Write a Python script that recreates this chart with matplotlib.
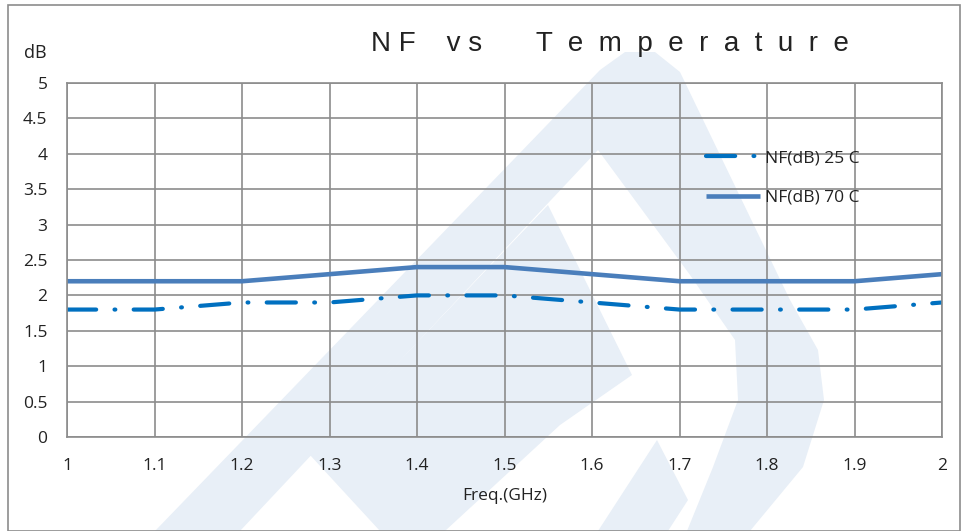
import matplotlib
matplotlib.use("Agg")
import matplotlib.pyplot as plt
from matplotlib.patches import Rectangle, Polygon

plt.rcParams['font.family'] = ['Open Sans', 'DejaVu Sans']

freq = [1.0, 1.1, 1.2, 1.3, 1.4, 1.5, 1.6, 1.7, 1.8, 1.9, 2.0]
nf_25c = [1.8, 1.8, 1.9, 1.9, 2.0, 2.0, 1.9, 1.8, 1.8, 1.8, 1.9]
nf_70c = [2.2, 2.2, 2.2, 2.3, 2.4, 2.4, 2.3, 2.2, 2.2, 2.2, 2.3]
x_ticks = [1, 1.1, 1.2, 1.3, 1.4, 1.5, 1.6, 1.7, 1.8, 1.9, 2]
x_labels = ['1', '1.1', '1.2', '1.3', '1.4', '1.5', '1.6', '1.7', '1.8', '1.9', '2']
y_ticks = [0, 0.5, 1, 1.5, 2, 2.5, 3, 3.5, 4, 4.5, 5]
y_labels = ['0', '0.5', '1', '1.5', '2', '2.5', '3', '3.5', '4', '4.5', '5']

W, H = 965, 531
fig = plt.figure(figsize=(W / 100, H / 100), dpi=100)
fig.patch.set_facecolor('white')


def px(pts):
    return [(x / W, 1 - y / H) for x, y in pts]


def shape(pts, color, z):
    fig.add_artist(Polygon(px(pts), closed=True, transform=fig.transFigure,
                           facecolor=color, edgecolor='none', zorder=z))


# faint background watermark (logo), drawn below everything
wm = '#e8eff7'
shape([(155, 531), (600, 70), (625, 52), (655, 52), (680, 72), (790, 300),
       (818, 350), (824, 400), (803, 467), (750, 531)], wm, -3)
shape([(240, 531), (598, 150), (690, 275), (735, 340), (738, 400), (713, 467),
       (687, 531)], 'white', -2)
shape([(310, 455), (548, 205), (632, 375), (560, 425), (445, 531), (380, 531)], wm, -1)
shape([(657, 440), (688, 500), (668, 531), (598, 531)], wm, -1)

fig.add_artist(Rectangle((8 / W, 0), (960 - 8) / W, 1 - 5 / H, transform=fig.transFigure,
                         fill=False, edgecolor='#8c8c8c', linewidth=1.2))

ax = fig.add_axes([67 / W, 1 - 437 / H, (942 - 67) / W, (437 - 83) / H])
ax.set_facecolor('none')
ax.set_xlim(1, 2)
ax.set_ylim(0, 5)
ax.set_xticks(x_ticks)
ax.set_xticklabels(x_labels)
ax.set_yticks(y_ticks)
ax.set_yticklabels(y_labels)
ax.grid(True, color='#8c8c8c', linewidth=1.2)
ax.set_axisbelow(True)
for s in ax.spines.values():
    s.set_color('#8c8c8c')
    s.set_linewidth(1.2)
ax.tick_params(length=0, labelsize=12.5, colors='#222222')
ax.tick_params(axis='x', pad=15)
ax.tick_params(axis='y', pad=14)

ax.plot(freq, nf_25c, color='#0070C0', linewidth=3.0, dash_capstyle='round',
        linestyle=(0, (7.0, 4.4, 0.2, 4.4)), label='NF(dB) 25 C')
ax.plot(freq, nf_70c, color='#4a7ebb', linewidth=3.3, label='NF(dB) 70 C',
        solid_capstyle='butt')

ax.set_xlabel('Freq.(GHz)', fontsize=12.5, color='#222222', labelpad=10)
fig.text(35 / W, 1 - 53 / H, 'dB', fontsize=13, ha='center', va='center', color='#222222')
fig.text(610 / W, 1 - 44 / H,
         'N F    v s       T  e  m  p  e  r  a  t  u  r  e', fontsize=20,
         family=['Liberation Sans', 'DejaVu Sans'],
         ha='center', va='center', color='#222222')

leg = ax.legend(loc='upper left', bbox_to_anchor=(706 / W, 1 - 150 / H),
                bbox_transform=fig.transFigure, frameon=False, fontsize=12.5,
                handlelength=3.1, handletextpad=0.3, labelspacing=1.35,
                borderpad=0, borderaxespad=0)
for t in leg.get_texts():
    t.set_color('#222222')

fig.savefig('out.png', dpi=100)
